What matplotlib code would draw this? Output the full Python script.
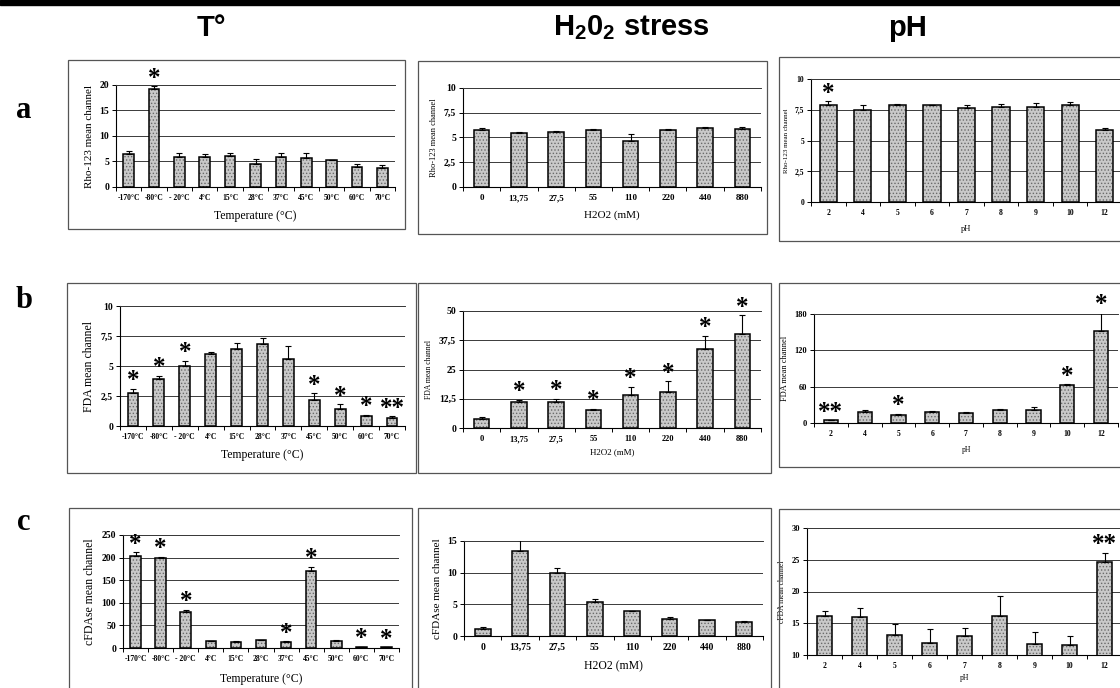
import numpy as np
import matplotlib.pyplot as plt
from matplotlib.patches import Rectangle

W, H = 1120, 688

temps = ['-170°C', '-80°C', '- 20°C', '4°C', '15°C', '28°C', '37°C',
         '45°C', '50°C', '60°C', '70°C']
h2o2 = ['0', '13,75', '27,5', '55', '110', '220', '440', '880']
ph = ['2', '4', '5', '6', '7', '8', '9', '10', '12']

# row a : Rho-123 mean channel
rho_t = [6.5, 19.2, 5.8, 5.8, 6.0, 4.6, 5.9, 5.7, 5.2, 4.0, 3.7]
rho_t_err = [0.6, 0.6, 0.8, 0.6, 0.7, 0.9, 0.8, 0.9, 0.1, 0.5, 0.6]
rho_t_sig = ['', '*', '', '', '', '', '', '', '', '', '']

rho_h = [5.8, 5.5, 5.55, 5.8, 4.6, 5.8, 6.0, 5.9]
rho_h_err = [0.2, 0.05, 0.1, 0.1, 0.75, 0.05, 0.05, 0.2]
rho_h_sig = [''] * 8

rho_p = [7.85, 7.45, 7.85, 7.85, 7.65, 7.75, 7.75, 7.9, 5.85]
rho_p_err = [0.33, 0.4, 0.13, 0.05, 0.2, 0.2, 0.33, 0.2, 0.16]
rho_p_sig = ['*', '', '', '', '', '', '', '', '']

# row b : FDA mean channel
fda_t = [2.75, 3.9, 5.0, 6.0, 6.45, 6.8, 5.6, 2.2, 1.4, 0.85, 0.7]
fda_t_err = [0.36, 0.28, 0.44, 0.14, 0.47, 0.55, 1.1, 0.55, 0.41, 0.1, 0.1]
fda_t_sig = ['*', '*', '*', '', '', '', '', '*', '*', '*', '**']

fda_h = [3.9, 10.9, 10.9, 7.9, 14.3, 15.4, 33.7, 40.0]
fda_h_err = [0.9, 1.2, 1.7, 0.4, 3.3, 4.7, 5.7, 8.3]
fda_h_sig = ['', '*', '*', '*', '*', '*', '*', '*']

fda_p = [4.3, 18.1, 13.7, 18.1, 17.0, 20.8, 21.9, 62.0, 152.0]
fda_p_err = [0.5, 2.7, 1.6, 1.1, 0.8, 2.7, 4.4, 1.6, 30.0]
fda_p_sig = ['**', '', '*', '', '', '', '', '*', '*']

# row c : cFDAse mean channel
cfda_t = [204, 200, 79.4, 14.7, 13.2, 16.9, 13.0, 170.5, 16.0, 2.2, 1.5]
cfda_t_err = [8, 2, 5, 1.5, 1.5, 1.5, 1.5, 9.5, 1.5, 0.5, 0.5]
cfda_t_sig = ['*', '*', '*', '', '', '', '*', '*', '', '*', '*']

cfda_h = [1.16, 13.47, 10.0, 5.39, 3.9, 2.75, 2.5, 2.2]
cfda_h_err = [0.25, 1.7, 0.7, 0.4, 0.05, 0.2, 0.1, 0.1]
cfda_h_sig = [''] * 8

cfda_p = [16.15, 15.95, 13.15, 11.95, 13.05, 16.15, 11.75, 11.6, 24.65]
cfda_p_err = [0.85, 1.5, 1.7, 2.15, 1.25, 3.15, 1.85, 1.45, 1.45]
cfda_p_sig = ['', '', '', '', '', '', '', '', '**']

ticks_20 = [0, 5, 10, 15, 20]
ticks_10 = [0, 2.5, 5, 7.5, 10]
labels_10 = ['0', '2,5', '5', '7,5', '10']
ticks_50 = [0, 12.5, 25, 37.5, 50]
labels_50 = ['0', '12,5', '25', '37,5', '50']
ticks_180 = [0, 60, 120, 180]
ticks_250 = [0, 50, 100, 150, 200, 250]
ticks_15 = [0, 5, 10, 15]
ticks_30 = [10, 15, 20, 25, 30]

plt.rcParams['font.family'] = ['Liberation Serif', 'DejaVu Serif']
plt.rcParams['font.weight'] = 'bold'
plt.rcParams['hatch.linewidth'] = 0.6

fig = plt.figure(figsize=(W / 100, H / 100), dpi=100)


def px(l, t, r, b):
    return [l / W, 1 - b / H, (r - l) / W, (b - t) / H]


def frame(l, t, r, b):
    fig.patches.append(Rectangle((l / W, 1 - b / H), (r - l) / W, (b - t) / H,
                                 transform=fig.transFigure, fill=False,
                                 edgecolor='#555555', lw=0.9))


def panel(box, cats, vals, errs, sig, yticks, ylim, ylab, xlab,
          ylabels=None, width=0.42, tfs=5.5, yfs=7, lfs=8.5, xlfs=8.5,
          ylpad=4, xlpad=6, sfs=18):
    ax = fig.add_axes(px(*box))
    x = np.arange(len(cats))
    # stippled grey fill, then a black outline on top
    ax.bar(x, vals, width, color='#c9c9c9', edgecolor='#6a6a6a', lw=0,
           hatch='.....', zorder=3)
    ax.bar(x, vals, width, color='none', edgecolor='black', lw=1.1, zorder=4)
    ax.errorbar(x, vals, yerr=[np.zeros(len(vals)), errs], fmt='none',
                ecolor='black', elinewidth=0.8, capsize=2, capthick=0.8,
                zorder=5)
    for xi, v, e, s in zip(x, vals, errs, sig):
        if s:
            ax.annotate(s, (xi, v + e), xytext=(0, 1), textcoords='offset points',
                        ha='center', va='baseline', fontsize=sfs,
                        fontweight='bold', annotation_clip=False, zorder=6)
    ax.set_xlim(-0.5, len(cats) - 0.5)
    ax.set_ylim(*ylim)
    ax.set_yticks(yticks)
    ax.set_yticklabels(ylabels if ylabels else [str(t) for t in yticks],
                       fontsize=yfs)
    ax.set_xticks(x)
    ax.set_xticklabels(cats, fontsize=tfs)
    ax.set_xticks(np.arange(len(cats) + 1) - 0.5, minor=True)
    ax.tick_params(axis='x', which='major', length=0, pad=5)
    ax.tick_params(axis='x', which='minor', length=3, width=0.7)
    ax.tick_params(axis='y', length=3, width=0.7, pad=2)
    ax.yaxis.grid(True, color='#3a3a3a', lw=0.7)
    ax.set_axisbelow(True)
    for side in ['left', 'bottom']:
        ax.spines[side].set_linewidth(0.8)
    ax.spines['top'].set_color('#3a3a3a')
    ax.spines['top'].set_linewidth(0.7)
    ax.spines['right'].set_visible(False)
    ax.set_ylabel(ylab, fontsize=lfs, labelpad=ylpad)
    ax.set_xlabel(xlab, fontsize=xlfs, labelpad=xlpad)
    return ax


# panel frames
frame(68, 60, 405, 229)
frame(418, 61, 767, 234)
frame(779, 57, 1130, 241)
frame(67, 283, 416, 473)
frame(418, 283, 771, 473)
frame(779, 283, 1130, 467)
frame(69, 508, 412, 692)
frame(418, 508, 771, 692)
frame(779, 509, 1130, 692)

# row a
panel((116, 85, 395, 187), temps, rho_t, rho_t_err, rho_t_sig, ticks_20,
      (0, 20), 'Rho-123 mean channel', 'Temperature (°C)', lfs=8)
panel((463, 88, 761, 187), h2o2, rho_h, rho_h_err, rho_h_sig, ticks_10,
      (0, 10), 'Rho-123 mean channel', 'H2O2 (mM)', ylabels=labels_10,
      tfs=6.5, lfs=6, xlfs=8)
panel((811, 79, 1122, 202), ph, rho_p, rho_p_err, rho_p_sig, ticks_10,
      (0, 10), 'Rho-123 mean channel', 'pH', ylabels=labels_10, width=0.5,
      tfs=5.5, yfs=5.5, lfs=5, xlfs=6)

# row b
panel((120, 306, 405, 426), temps, fda_t, fda_t_err, fda_t_sig, ticks_10,
      (0, 10), 'FDA mean channel', 'Temperature (°C)', ylabels=labels_10)
panel((463, 311, 761, 428), h2o2, fda_h, fda_h_err, fda_h_sig, ticks_50,
      (0, 50), 'FDA mean channel', 'H2O2 (mM)', ylabels=labels_50,
      tfs=6, lfs=5.5, xlfs=6.5, xlpad=4)
panel((814, 314, 1118, 423), ph, fda_p, fda_p_err, fda_p_sig, ticks_180,
      (0, 180), 'FDA mean channel', 'pH', tfs=5.5, yfs=6, lfs=6, xlfs=5.5)

# row c
panel((123, 535, 399, 648), temps, cfda_t, cfda_t_err, cfda_t_sig, ticks_250,
      (0, 250), 'cFDAse mean channel', 'Temperature (°C)', xlpad=7)
panel((464, 541, 763, 636), h2o2, cfda_h, cfda_h_err, cfda_h_sig, ticks_15,
      (0, 15), 'cFDAse mean channel', 'H2O2 (mM)', tfs=7, lfs=8, xlfs=8.5)
panel((807, 528, 1122, 655), ph, cfda_p, cfda_p_err, cfda_p_sig, ticks_30,
      (10, 30), 'cFDA mean channel', 'pH', tfs=5.5, yfs=6, lfs=5.5, xlfs=5.5,
      xlpad=3)

# column and row headings
head = dict(fontsize=21, fontweight='bold', ha='center', va='center',
            family=['Liberation Sans Narrow', 'Liberation Sans'])
fig.text(211 / W, 1 - 28 / H, 'T°', **head)
fig.text(631 / W, 1 - 28 / H, r'H$\mathregular{_2}$0$\mathregular{_2}$ stress', **head)
fig.text(908 / W, 1 - 28 / H, 'pH', **head)
for lab, yy in zip(['a', 'b', 'c'], [110, 300, 523]):
    fig.text(24 / W, 1 - yy / H, lab, fontsize=22, fontweight='bold',
             ha='center', va='center')

fig.patches.append(Rectangle((0, 1 - 5 / H), 1, 5 / H, transform=fig.transFigure,
                             color='black'))

fig.savefig('out.png', dpi=100)
